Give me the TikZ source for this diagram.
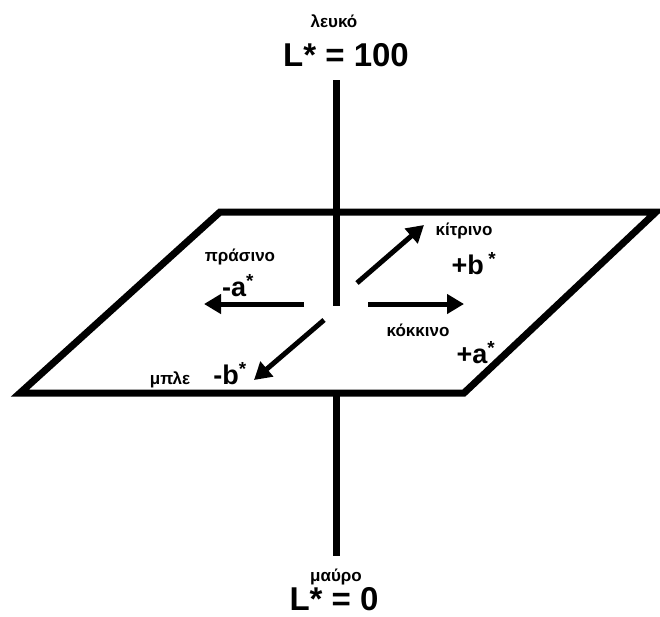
\documentclass[tikz,border=0pt]{standalone}
\usepackage{fontspec}
\setmainfont{Liberation Sans}
\usetikzlibrary{arrows.meta,positioning,calc}
\tikzset{
  plane/.style  ={draw=black, line width=7pt, line join=miter},
  axis/.style   ={draw=black, line width=7pt},
  dirarr/.style ={draw=black, line width=5pt, -{Triangle[length=17pt,width=19pt]}},
  word/.style   ={font=\fontsize{17}{19}\selectfont\bfseries, inner sep=1pt},
  val/.style    ={font=\fontsize{27}{30}\selectfont\bfseries, inner sep=1pt},
  lval/.style   ={font=\fontsize{33}{36}\selectfont\bfseries, inner sep=1pt},
}
\newcommand{\supstar}{\textsuperscript{*}}
\begin{document}
\begin{tikzpicture}[x=1pt, y=-1pt]
\useasboundingbox (0,0) rectangle (660,616);
% plane of a*, b*
\coordinate (ptl) at (220,212);
\coordinate (ptr) at (656,212);
\coordinate (pbr) at (464,393);
\coordinate (pbl) at (20,393);
\draw[plane] (ptl) -- (ptr) -- (pbr) -- (pbl) -- cycle;
% L* axis
\node[word] (white) at (334,21) {λευκό};
\node[lval] (ltop) at (346,55) {L* = 100};
\coordinate (atop) at (336,80);
\coordinate (amid) at (336,306);
\coordinate (alow) at (336,395);
\coordinate (abot) at (336,556);
\draw[axis] (atop) -- (amid);
\draw[axis] (alow) -- (abot);
\node[word] (black) at (336,577) {μαύρο};
\node[lval] (lbot) at (334,599) {L* = 0};
% colour directions
\coordinate (cl) at (304,304);
\coordinate (el) at (204,304);
\coordinate (cr) at (368,304);
\coordinate (er) at (464,304);
\coordinate (cu) at (357,283);
\coordinate (eu) at (424,225);
\coordinate (cd) at (324,320);
\coordinate (ed) at (254,380);
\draw[dirarr] (cl) -- (el);
\draw[dirarr] (cr) -- (er);
\draw[dirarr] (cu) -- (eu);
\draw[dirarr] (cd) -- (ed);
\node[word] (green) at (240,257) {πράσινο};
\node[val] (mina) at (238,286) {-a\supstar};
\node[word] (yellow) at (464,231) {κίτρινο};
\node[val] (plusb) at (474,264) {+b\,\supstar};
\node[word] (red) at (418,330) {κόκκινο};
\node[val] (plusa) at (476,353) {+a\supstar};
\node[word] (blue) at (170,380) {μπλε};
\node[val] (minb) at (230,374) {-b\supstar};
\end{tikzpicture}
\end{document}
